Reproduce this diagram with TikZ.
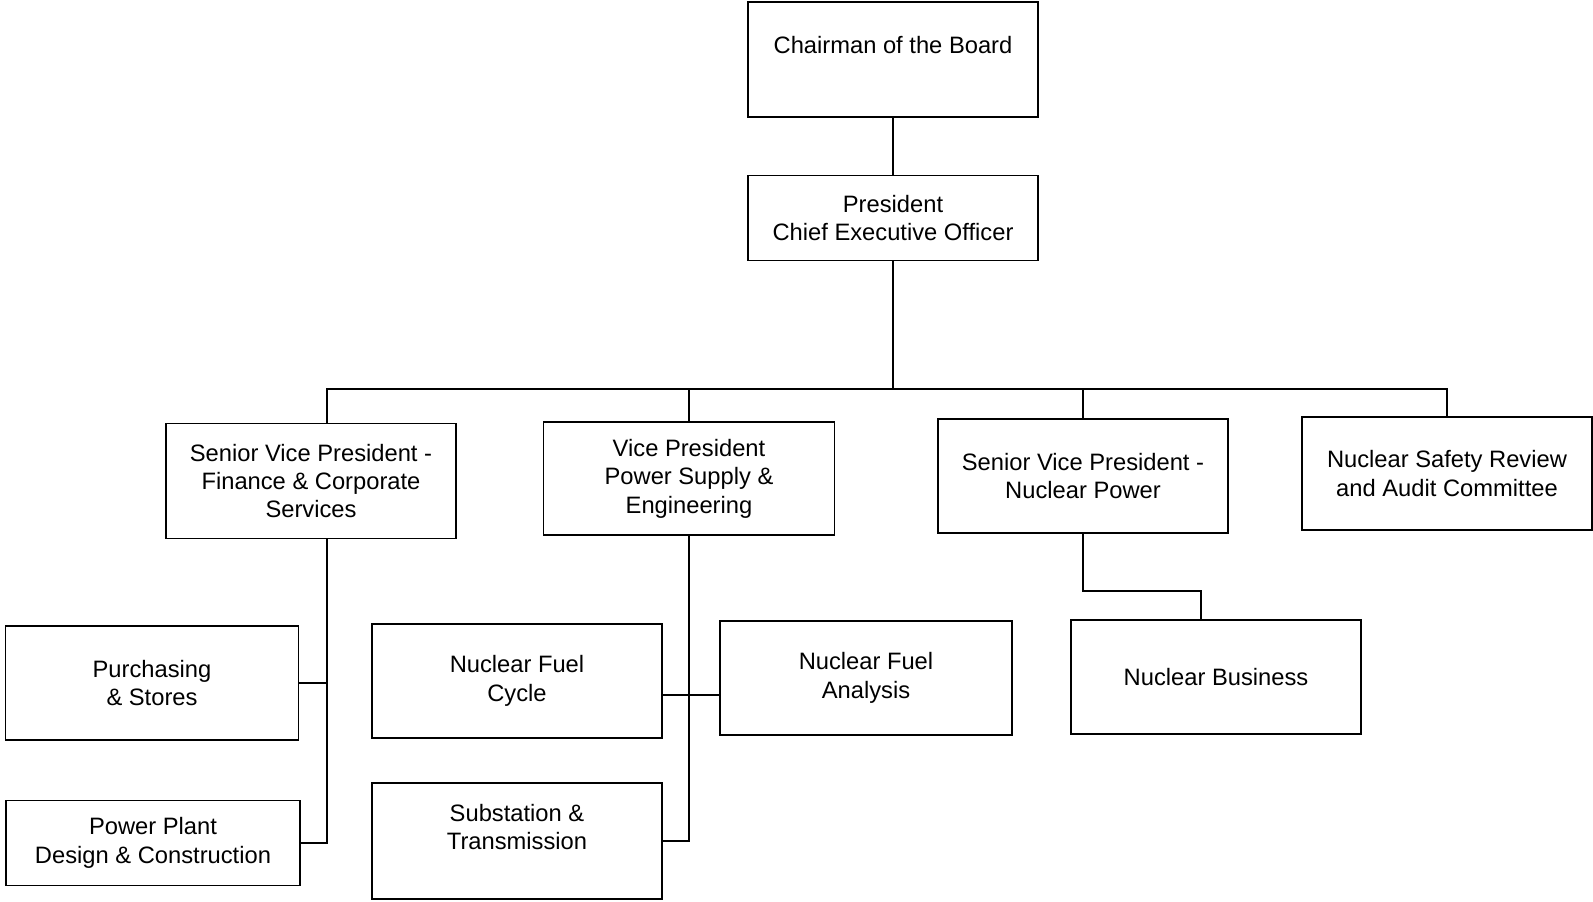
\documentclass[tikz,border=0pt]{standalone}
\usepackage{fontspec}
\setmainfont{Liberation Sans}
\tikzset{
    box/.style={rectangle, draw, line width=1.1pt, align=center, minimum width=5.8cm, minimum height=2.27cm, font=\fontsize{13.5}{16.2}\selectfont},
    lowbox/.style={box, minimum height=1.7cm},
    wire/.style={line width=1.1pt}
}
\begin{document}
\begin{tikzpicture}
    \useasboundingbox (0, 0) rectangle (31.86, -18.04);
    % top of the chart
    \node (chairman) at (17.86, -1.19) [box, minimum height=2.3cm] {Chairman of the Board\\ \mbox{}};
    \node (president) at (17.86, -4.36) [lowbox] {President\\ Chief Executive Officer};
    % second level
    \node (svpfinance) at (6.22, -9.62) [box, minimum height=2.3cm] {Senior Vice President -\\ Finance \& Corporate\\ Services};
    \node (vppower) at (13.78, -9.57) [box, minimum width=5.82cm] {Vice President\\ Power Supply \&\\ Engineering};
    \node (svpnuclear) at (21.66, -9.52) [box, minimum height=2.28cm] {Senior Vice President -\\ Nuclear Power};
    \node (safety) at (28.94, -9.47) [box] {Nuclear Safety Review\\ and Audit Committee};
    % third level
    \node (purchasing) at (3.04, -13.66) [box, minimum width=5.86cm] {Purchasing\\ \& Stores};
    \node (powerplant) at (3.06, -16.86) [lowbox, minimum width=5.88cm] {Power Plant\\ Design \& Construction};
    \node (fuelcycle) at (10.34, -13.62) [box] {Nuclear Fuel\\ Cycle};
    \node (fuelanalysis) at (17.32, -13.56) [box, minimum width=5.84cm] {Nuclear Fuel\\ Analysis};
    \node (substation) at (10.34, -16.82) [box, minimum height=2.32cm] {Substation \&\\ Transmission\\ \mbox{}};
    \node (business) at (24.32, -13.54) [box, minimum height=2.28cm] {Nuclear Business};
    % connectors
    \coordinate (bus) at (0, -7.78);
    \coordinate (finspine) at ([xshift=3.2mm]svpfinance.south);
    \coordinate (fuelline) at (0, -13.9);
    \coordinate (nucjog) at (24.02, -11.82);
    \draw[wire] (chairman) -- (president);
    \draw[wire] (president.south) -- (president.south |- bus);
    \draw[wire] ([xshift=3.2mm]svpfinance.north) |- (bus -| safety.north) -- (safety.north);
    \draw[wire] (vppower.north) -- (vppower.north |- bus);
    \draw[wire] (svpnuclear.north) -- (svpnuclear.north |- bus);
    \draw[wire] (finspine) |- (powerplant.east);
    \draw[wire] (purchasing.east) -- (purchasing.east -| finspine);
    \draw[wire] (vppower.south) |- (substation.east);
    \draw[wire] (fuelcycle.east |- fuelline) -- (fuelanalysis.west |- fuelline);
    \draw[wire] (svpnuclear.south) |- (nucjog) -- (nucjog |- business.north);
\end{tikzpicture}
\end{document}
